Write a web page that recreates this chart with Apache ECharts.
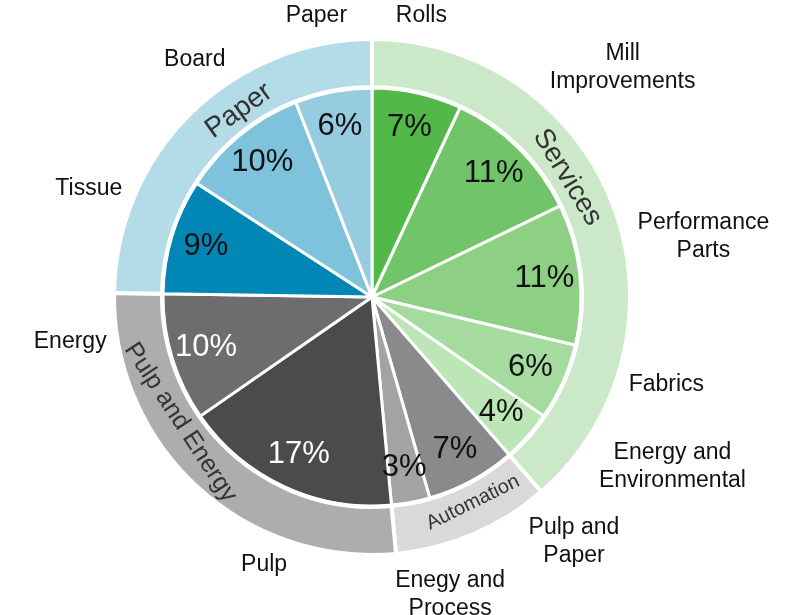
<!DOCTYPE html>
<html>
<head>
<meta charset="utf-8">
<script src="https://cdn.jsdelivr.net/npm/echarts@6/dist/echarts.min.js"></script>
<style>
  html, body { margin: 0; padding: 0; background: #fff; }
  #chart { width: 787px; height: 615px; }
</style>
</head>
<body>
<div id="chart"></div>
<script>
// inner slices, clockwise from 12 o'clock
const segments = ['Rolls', 'Mill\nImprovements', 'Performance\nParts', 'Fabrics', 'Energy and\nEnvironmental',
  'Pulp and\nPaper', 'Enegy and\nProcess', 'Pulp', 'Energy', 'Tissue', 'Board', 'Paper'];
const shares = [7, 11, 11, 6, 4, 7, 3, 17, 10, 9, 10, 6];
const segmentGroup = [0, 0, 0, 0, 0, 1, 1, 2, 2, 3, 3, 3];
// outer ring
const groups = ['Services', 'Automation', 'Pulp and Energy', 'Paper'];

const segmentColors = ['#52b848', '#72c46a', '#8dd084', '#a6dba0', '#bde6b6',
  '#8a8a8c', '#a3a3a5', '#4b4b4e', '#6d6d6f', '#0087b5', '#7ec2dc', '#97cbe0'];
const segmentTextColors = ['#111', '#111', '#111', '#111', '#111',
  '#111', '#111', '#fff', '#fff', '#111', '#111', '#111'];
const groupColors = ['#cbe9c8', '#d9d9d9', '#adadaf', '#b3dbe8'];
const groupFontSizes = [28, 20, 25, 28];

// hand spacing of the labels, degrees away from the slice middle
const nameShift = [-2.5, 3, -4, -7.5, -12.5, -11, -4, -3, 8.5, 4, 2.5, -0.5];
const groupShift = [-11, -3, 14, 9];

const FONT = "'Liberation Sans', Arial, sans-serif";
const CX = 372, CY = 297;

const groupTotals = groups.map((g, gi) =>
  shares.reduce((s, v, i) => s + (segmentGroup[i] === gi ? v : 0), 0));

function midAnglesOf(values) {
  const sum = values.reduce((a, b) => a + b, 0);
  let acc = 0;
  return values.map(v => {
    const m = (acc + v / 2) / sum * 360;
    acc += v;
    return m;
  });
}
const segmentMid = midAnglesOf(shares);
const groupMid = midAnglesOf(groupTotals);

function polar(deg, r) {
  const a = deg * Math.PI / 180;
  return [CX + Math.sin(a) * r, CY - Math.cos(a) * r];
}

const chart = echarts.init(document.getElementById('chart'));

const option = {
  animation: false,
  series: [
    {
      name: 'segments',
      type: 'pie',
      silent: true,
      center: [CX, CY],
      radius: [0, 209],
      startAngle: 90,
      label: { show: false },
      labelLine: { show: false },
      itemStyle: { borderColor: '#fff', borderWidth: 3 },
      data: segments.map((n, i) => ({ name: n, value: shares[i], itemStyle: { color: segmentColors[i] } }))
    },
    {
      name: 'percent',
      type: 'pie',
      silent: true,
      center: [CX, CY],
      radius: [132, 209],
      startAngle: 90,
      itemStyle: { color: 'rgba(0,0,0,0)' },
      labelLine: { show: false },
      label: {
        show: true,
        position: 'inside',
        formatter: '{c}%',
        fontFamily: FONT,
        fontSize: 31
      },
      data: segments.map((n, i) => ({ name: n, value: shares[i], label: { color: segmentTextColors[i] } }))
    },
    {
      name: 'groups',
      type: 'pie',
      silent: true,
      center: [CX, CY],
      radius: [210, 258],
      startAngle: 90,
      itemStyle: { borderColor: '#fff', borderWidth: 4 },
      labelLine: { show: false },
      label: {
        show: true,
        position: 'inside',
        formatter: '{b}',
        color: '#333',
        fontFamily: FONT
      },
      labelLayout: function (p) {
        const a = groupMid[p.dataIndex] + groupShift[p.dataIndex];
        const pt = polar(a, 229);
        const norm = a > 180 ? a - 360 : a;
        const rot = (norm > -90 && norm < 90) ? -norm : 180 - a;
        return { x: pt[0], y: pt[1], rotate: rot, align: 'center', verticalAlign: 'middle' };
      },
      data: groups.map((n, i) => ({
        name: n, value: groupTotals[i],
        itemStyle: { color: groupColors[i] },
        label: { fontSize: groupFontSizes[i] }
      }))
    },
    {
      name: 'names',
      type: 'pie',
      silent: true,
      center: [CX, CY],
      radius: [0, 258],
      startAngle: 90,
      avoidLabelOverlap: false,
      itemStyle: { color: 'rgba(0,0,0,0)' },
      labelLine: { show: false, length: 10, length2: 0 },
      label: {
        show: true,
        position: 'outside',
        formatter: '{b}',
        color: '#111',
        fontFamily: FONT,
        fontSize: 23,
        lineHeight: 28
      },
      labelLayout: function (p) {
        const a = segmentMid[p.dataIndex] + nameShift[p.dataIndex];
        const rad = a * Math.PI / 180;
        const w = p.labelRect.width, h = p.labelRect.height;
        const r = 267 + Math.abs(Math.sin(rad)) * w / 2 + Math.abs(Math.cos(rad)) * h / 2;
        const pt = polar(a, r);
        return { x: pt[0], y: pt[1], align: 'center', verticalAlign: 'middle' };
      },
      data: segments.map((n, i) => ({ name: n, value: shares[i] }))
    }
  ]
};

chart.setOption(option);
</script>
</body>
</html>
